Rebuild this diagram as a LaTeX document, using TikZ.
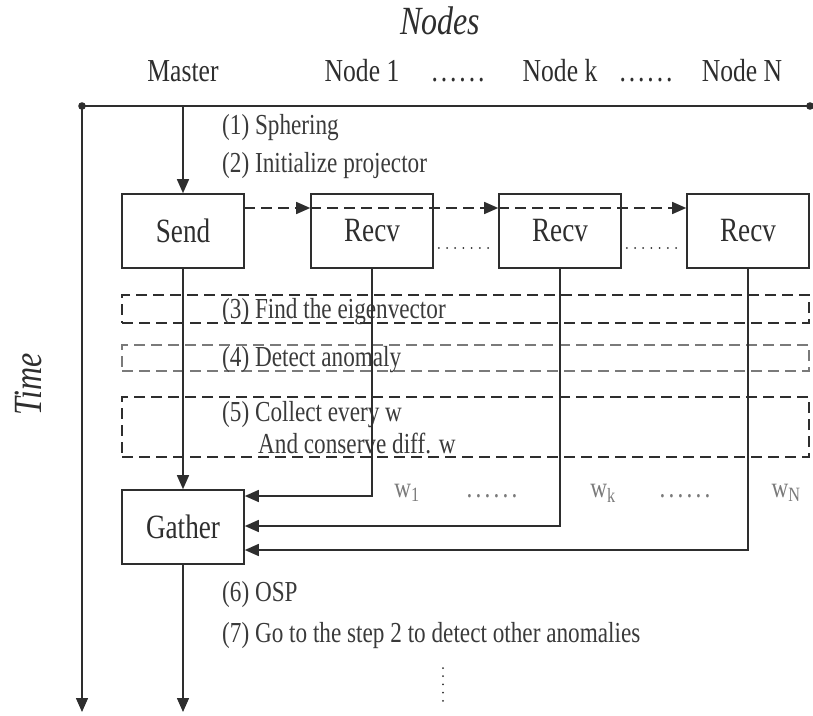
\documentclass[tikz,border=0pt]{standalone}
\usepackage{fontspec}
\setmainfont[FakeStretch=0.8]{Liberation Serif}
\usetikzlibrary{arrows.meta}
\definecolor{ink}{HTML}{2E2E2E}
\definecolor{txt}{HTML}{3A3A3A}
\definecolor{lgray}{HTML}{7A7A7A}
\newcommand\dotrowx[1]{\hbox to #1{\xleaders\hbox to 8.2pt{\hss.\hss}\hfill}}
\begin{document}
\begin{tikzpicture}[x=1pt,y=-1pt,
  ln/.style={draw=ink,line width=1.5pt},
  tip/.style={-{Triangle[length=14pt,width=12pt]}},
  arr/.style={ln,tip},
  box/.style={draw=ink,line width=1.6pt,minimum width=122pt,minimum height=74pt,inner sep=0pt,font=\fontsize{34}{38}\selectfont,text=ink},
  hdr/.style={font=\fontsize{32}{36}\selectfont,text=ink,anchor=base,inner sep=0pt},
  stp/.style={font=\fontsize{29}{36}\selectfont,text=txt,anchor=base west,inner sep=0pt,align=left},
  wl/.style={font=\fontsize{29}{32}\selectfont,text=lgray,anchor=base,inner sep=0pt},
  dbox/.style={draw=ink,line width=1.4pt,dash pattern=on 11pt off 6pt,minimum width=687pt,inner sep=0pt},
  dotted line/.style={draw=ink,line width=2pt,line cap=round,dash pattern=on 0pt off 8.2pt}
]
\useasboundingbox (0,0) rectangle (813,715);

% titles
\node[font=\fontsize{40}{44}\selectfont\itshape,text=ink,anchor=base,inner sep=0pt] (nodes) at (440,34) {Nodes};
\node[font=\fontsize{40}{44}\selectfont\itshape,text=ink,rotate=90,inner sep=0pt] (time) at (28,384) {Time};

% header labels
\node[hdr] (hmaster) at (183,81) {Master};
\node[hdr] (hn1) at (362,81) {Node 1};
\node[hdr] (hd1) at (458,81) {\dotrowx{57pt}};
\node[hdr] (hnk) at (560,81) {Node k};
\node[hdr] (hd2) at (646,81) {\dotrowx{57pt}};
\node[hdr] (hnn) at (742,81) {Node N};

% axes
\coordinate (tl) at (82,106);
\coordinate (tr) at (810,106);
\coordinate (bl) at (82,712);
\draw[ln] (tl) -- (tr);
\fill[ink] (tl) circle (3.8pt);
\fill[ink] (tr) circle (3.8pt);
\draw[arr] (tl) -- (bl);

% boxes
\node[box] (send) at (183,231) {Send};
\node[box] (recv1) at (372,231) {Recv};
\node[box] (recv2) at (560,231) {Recv};
\node[box] (recv3) at (748,231) {Recv};
\node[box] (gather) at (183,527) {Gather};

% steps
\node[stp] (s1) at (222,134) {(1) Sphering};
\node[stp] (s2) at (222,172) {(2) Initialize projector};

% dashed regions
\node[dbox,minimum height=28pt] (r3) at (465.5,309) {};
\node[dbox,draw=lgray,minimum height=26pt] (r4) at (465.5,358) {};
\node[dbox,minimum height=60pt] (r5) at (465.5,427) {};
\node[stp] (s3) at (222,318) {(3) Find the eigenvector};
\node[stp] (s4) at (222,366) {(4) Detect anomaly};
\node[stp] (s5a) at (222,421) {(5) Collect every w};
\node[stp] (s5b) at (258,453) {And conserve diff. w};

% master line
\coordinate (mtop) at (183,106);
\draw[arr] (mtop) -- (send.north);
\draw[arr] (send.south) -- (gather.north);
\coordinate (gend) at (183,712);
\draw[arr] (gather.south) -- (gend);

% dashed broadcast arrows
\coordinate (d0) at (244,208);
\draw[ln,dash pattern=on 11pt off 6pt,tip] (d0) -- (recv1.west |- d0);
\draw[ln,dash pattern=on 11pt off 6pt,tip] (recv1.west |- d0) -- (recv2.west |- d0);
\draw[ln,dash pattern=on 11pt off 6pt,tip] (recv2.west |- d0) -- (recv3.west |- d0);

% dotted between recv boxes
\coordinate (dy) at (0,248);
\draw[dotted line] ([xshift=5pt]recv1.east |- dy) -- ([xshift=-3pt]recv2.west |- dy);
\draw[dotted line] ([xshift=5pt]recv2.east |- dy) -- ([xshift=-3pt]recv3.west |- dy);

% gather arrows
\coordinate (g1) at (0,496);
\coordinate (g2) at (0,526);
\coordinate (g3) at (0,550);
\draw[arr] (recv1.south) |- (gather.east |- g1);
\draw[arr] (recv2.south) |- (gather.east |- g2);
\draw[arr] (recv3.south) |- (gather.east |- g3);

% w labels
\node[wl] (w1) at (407,497) {w\textsubscript{1}};
\node[wl] (wd1) at (492,497) {\dotrowx{55pt}};
\node[wl] (wk) at (603,497) {w\textsubscript{k}};
\node[wl] (wd2) at (685,497) {\dotrowx{55pt}};
\node[wl] (wn) at (786,497) {w\textsubscript{N}};

% final steps
\node[stp] (s6) at (222,601) {(6) OSP};
\node[stp] (s7) at (222,642) {(7) Go to the step 2 to detect other anomalies};
\coordinate (v1) at (443,668);
\coordinate (v2) at (443,706);
\draw[dotted line] (v1) -- (v2);
\end{tikzpicture}
\end{document}
